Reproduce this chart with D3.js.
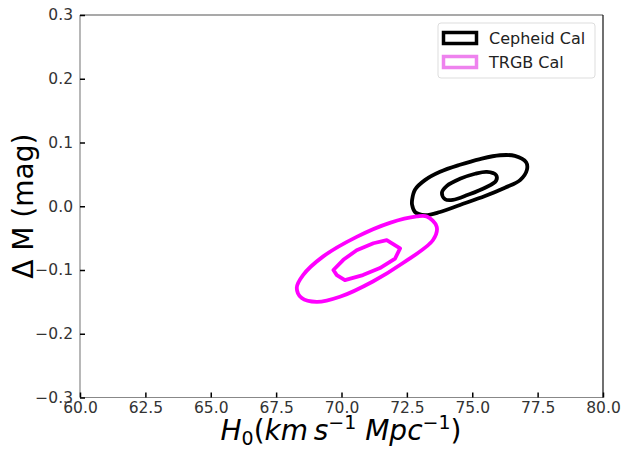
<!DOCTYPE html>
<html>
<head>
<meta charset="utf-8">
<script src="https://cdn.jsdelivr.net/npm/d3@7"></script>
<style>
    body { margin: 0; background: #fff; }
    svg { font-family: "DejaVu Sans", sans-serif; display: block; }
</style>
</head>
<body>
<div id="chart"></div>
<script>
// contour levels: [H0, dM]
const cepheidOuter = [
    [72.70, 0.010], [72.81, 0.026], [73.19, 0.041], [73.77, 0.054], [74.53, 0.065],
    [75.30, 0.074], [76.06, 0.080], [76.63, 0.079], [77.06, 0.069], [77.09, 0.057],
    [76.83, 0.041], [76.25, 0.029], [75.49, 0.016], [74.53, 0.002], [73.77, -0.009],
    [73.19, -0.014], [72.81, -0.009], [72.70, 0.002]
];
const cepheidInner = [
    [73.84, 0.021], [74.03, 0.032], [74.53, 0.043], [75.11, 0.051], [75.56, 0.054],
    [75.91, 0.049], [75.91, 0.040], [75.49, 0.029], [74.84, 0.018], [74.26, 0.010],
    [73.96, 0.011]
];
const trgbOuter = [
    [71.85, -0.026], [72.88, -0.016], [73.26, -0.016], [73.64, -0.032], [73.50, -0.053],
    [72.35, -0.089], [71.20, -0.118], [69.94, -0.142], [69.05, -0.150], [68.48, -0.144],
    [68.29, -0.128], [68.53, -0.108], [69.29, -0.079], [70.58, -0.048]
];
const trgbInner = [
    [71.73, -0.053], [72.24, -0.066], [72.05, -0.082], [71.47, -0.097], [70.82, -0.108],
    [70.13, -0.116], [69.82, -0.108], [69.69, -0.100], [70.07, -0.084], [70.58, -0.069],
    [71.22, -0.058]
];
const xTicks = [60, 62.5, 65, 67.5, 70, 72.5, 75, 77.5, 80];
const yTicks = [-0.3, -0.2, -0.1, 0.0, 0.1, 0.2, 0.3];
const legendItems = [
    { label: "Cepheid Cal", color: "#000000" },
    { label: "TRGB Cal", color: "#ee82ee" }
];

const width = 623, height = 449;
const margin = { top: 15, right: 20, bottom: 51.5, left: 80 };

const svg = d3.select("#chart").append("svg")
    .attr("width", width)
    .attr("height", height);

const x = d3.scaleLinear().domain([60, 80]).range([margin.left, width - margin.right]);
const y = d3.scaleLinear().domain([-0.3, 0.3]).range([height - margin.bottom, margin.top]);

// contours
const line = d3.line()
    .x(d => x(d[0]))
    .y(d => y(d[1]));

const contours = [
    { pts: cepheidOuter, color: "#000", curve: d3.curveCatmullRomClosed },
    { pts: cepheidInner, color: "#000", curve: d3.curveCatmullRomClosed },
    { pts: trgbOuter, color: "#ff00ff", curve: d3.curveCatmullRomClosed },
    { pts: trgbInner, color: "#ff00ff", curve: d3.curveLinearClosed }
];

svg.append("g")
    .selectAll("path")
    .data(contours)
    .join("path")
    .attr("d", d => line.curve(d.curve)(d.pts))
    .attr("fill", "none")
    .attr("stroke", d => d.color)
    .attr("stroke-width", 3.8)
    .attr("stroke-linejoin", "round");

// spines
const x0 = x(60), x1 = x(80), y0 = y(-0.3), y1 = y(0.3);
svg.append("line").attr("x1", x0).attr("x2", x0).attr("y1", y0).attr("y2", y1).attr("stroke", "#888").attr("stroke-width", 1.2);
svg.append("line").attr("x1", x0).attr("x2", x1).attr("y1", y0).attr("y2", y0).attr("stroke", "#888").attr("stroke-width", 1.2);
svg.append("line").attr("x1", x0).attr("x2", x1).attr("y1", y1).attr("y2", y1).attr("stroke", "#555").attr("stroke-width", 1.2);
svg.append("line").attr("x1", x1).attr("x2", x1).attr("y1", y0).attr("y2", y1).attr("stroke", "#111").attr("stroke-width", 1.2);

// axes, ticks pointing in
const xAxis = svg.append("g")
    .attr("transform", `translate(0,${y0})`)
    .call(d3.axisBottom(x).tickValues(xTicks).tickFormat(d3.format(".1f")).tickSizeInner(-5).tickSizeOuter(0).tickPadding(4));
const yAxis = svg.append("g")
    .attr("transform", `translate(${x0},0)`)
    .call(d3.axisLeft(y).tickValues(yTicks).tickFormat(d => d3.format(".1f")(d).replace("-", "\u2212")).tickSizeInner(-5).tickSizeOuter(0).tickPadding(7));

[xAxis, yAxis].forEach(a => {
    a.attr("font-size", 15.5).attr("font-family", "DejaVu Sans, sans-serif");
    a.select(".domain").remove();
    a.selectAll(".tick line").attr("stroke", "#000").attr("stroke-width", 1.5);
    a.selectAll(".tick text").attr("fill", "#333").style("font-size", "15.5px");
});

// axis labels (mathtext: letters italic, digits and minus upright)
const xl = svg.append("text")
    .attr("x", 341)
    .attr("y", 440)
    .attr("text-anchor", "middle")
    .attr("fill", "#000")
    .style("font-size", "28px")
    .style("font-style", "italic");
xl.append("tspan").text("H");
xl.append("tspan").attr("dy", 5).style("font-size", "19px").style("font-style", "normal").text("0");
xl.append("tspan").attr("dy", -5).style("font-style", "normal").text("(");
xl.append("tspan").text("km\u2009s");
xl.append("tspan").attr("dy", -11).style("font-size", "19px").style("font-style", "normal").text("\u22121");
xl.append("tspan").attr("dy", 11).text(" Mpc");
xl.append("tspan").attr("dy", -11).style("font-size", "19px").style("font-style", "normal").text("\u22121");
xl.append("tspan").attr("dy", 11).style("font-style", "normal").text(")");

svg.append("text")
    .attr("transform", `translate(33,${y(0)}) rotate(-90)`)
    .attr("text-anchor", "middle")
    .attr("fill", "#000")
    .style("font-size", "28px")
    .text("\u0394 M (mag)");

// legend
const legend = svg.append("g").attr("transform", "translate(438,23)");
legend.append("rect")
    .attr("width", 157).attr("height", 55).attr("rx", 3)
    .attr("fill", "#fff").attr("fill-opacity", 0.8)
    .attr("stroke", "#ddd");

const item = legend.selectAll("g.item")
    .data(legendItems)
    .join("g")
    .attr("class", "item")
    .attr("transform", (d, i) => `translate(0,${i * 24})`);

item.append("rect")
    .attr("x", 5.5).attr("y", 9.5)
    .attr("width", 33).attr("height", 11)
    .attr("fill", "none")
    .attr("stroke", d => d.color)
    .attr("stroke-width", 3.5);

item.append("text")
    .attr("x", 51).attr("y", 20.5)
    .attr("fill", "#222")
    .style("font-size", "16px")
    .text(d => d.label);
</script>
</body>
</html>
